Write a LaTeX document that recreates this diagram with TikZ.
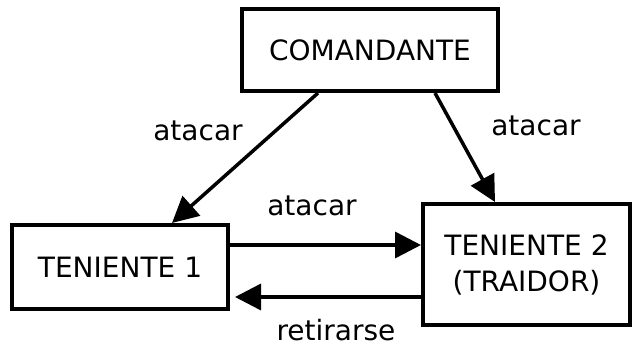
\documentclass[tikz,border=0pt]{standalone}
\usepackage{fontspec}
\setmainfont{DejaVu Sans}
\usetikzlibrary{arrows.meta}
\begin{document}
\begin{tikzpicture}[x=1pt,y=-1pt,
  box/.style={draw, line width=4pt, inner sep=0pt, align=center,
    font=\fontsize{28}{36}\selectfont},
  arr/.style={line width=3.5pt, -{Triangle[length=26pt,width=26pt]}},
  lbl/.style={anchor=base, inner sep=0pt, font=\fontsize{28}{36}\selectfont}]
  \useasboundingbox (0,0) rectangle (637,348);

  % the three boxes
  \node[box, minimum width=256pt, minimum height=82pt] (cmd) at (370,50) {COMANDANTE};
  \node[box, minimum width=216pt, minimum height=84pt] (t1) at (120,267) {TENIENTE 1};
  \node[box, minimum width=207pt, minimum height=121pt] (t2) at (526.5,264.5) {TENIENTE 2\\(TRAIDOR)};

  % orders from the commander
  \draw[arr] ([xshift=-52pt]cmd.south) -- ([xshift=52pt]t1.north);
  \draw[arr] ([xshift=65pt]cmd.south) -- ([xshift=-31.5pt]t2.north);

  % messages between the lieutenants
  \draw[arr] (t1.east |- 0,245) -- (t2.west |- 0,245);
  \draw[arr, shorten >=5pt] (t2.west |- 0,297) -- (t1.east |- 0,297);

  % labels
  \node[lbl] (l1) at (198,140) {atacar};
  \node[lbl] (l2) at (536,135) {atacar};
  \node[lbl] (l3) at (312,215) {atacar};
  \node[lbl] (l4) at (336,340) {retirarse};
\end{tikzpicture}
\end{document}
